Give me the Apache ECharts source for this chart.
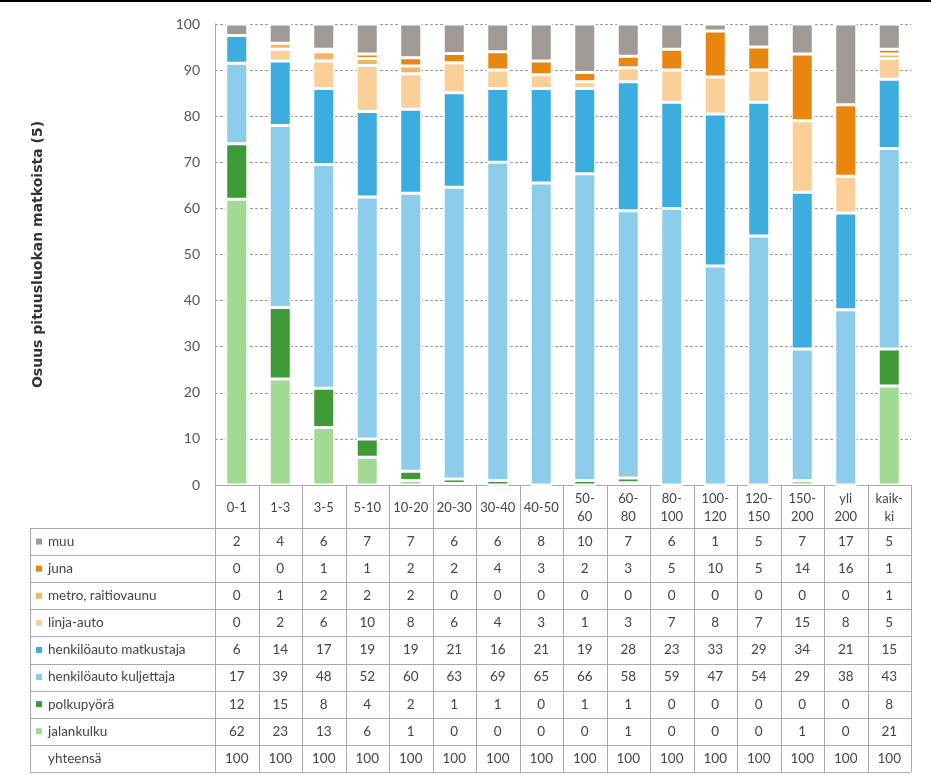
<!DOCTYPE html>
<html>
<head>
<meta charset="utf-8">
<script src="https://cdn.jsdelivr.net/npm/echarts@6/dist/echarts.min.js"></script>
<style>
html,body{margin:0;padding:0;background:#fff;}
#chart{width:931px;height:775px;}
</style>
</head>
<body>
<div id="chart"></div>
<script>
const categories = ['0-1','1-3','3-5','5-10','10-20','20-30','30-40','40-50','50-60','60-80','80-100','100-120','120-150','150-200','yli 200','kaikki'];
const headerLabels = ['0-1','1-3','3-5','5-10','10-20','20-30','30-40','40-50','50-\n60','60-\n80','80-\n100','100-\n120','120-\n150','150-\n200','yli\n200','kaik-\nki'];
const yTicks = [0,10,20,30,40,50,60,70,80,90,100];

// table values (rounded, as printed in the table)
const jalankulku   = [62,23,13,6,1,0,0,0,0,1,0,0,0,1,0,21];
const polkupyora   = [12,15,8,4,2,1,1,0,1,1,0,0,0,0,0,8];
const kuljettaja   = [17,39,48,52,60,63,69,65,66,58,59,47,54,29,38,43];
const matkustaja   = [6,14,17,19,19,21,16,21,19,28,23,33,29,34,21,15];
const linjaauto    = [0,2,6,10,8,6,4,3,1,3,7,8,7,15,8,5];
const metro        = [0,1,2,2,2,0,0,0,0,0,0,0,0,0,0,1];
const juna         = [0,0,1,1,2,2,4,3,2,3,5,10,5,14,16,1];
const muu          = [2,4,6,7,7,6,6,8,10,7,6,1,5,7,17,5];
const yhteensa     = [100,100,100,100,100,100,100,100,100,100,100,100,100,100,100,100];

// bar segment values (unrounded)
const barJalankulku = [62,23,12.5,6,1,0.3,0,0,0,0.5,0,0,0,1,0,21.5];
const barPolkupyora = [12,15.5,8.5,4,2,1,1,0,1,1,0,0,0,0,0,8];
const barKuljettaja = [17.5,39.5,48.5,52.5,60.3,63.3,69,65.5,66.5,58,60,47.5,54,28.5,38,43.5];
const barMatkustaja = [6,14,16.5,18.5,18.2,20.5,16,20.5,18.5,28,23,33,29,34,21,15];
const barLinjaauto  = [0,2.5,6,10,7.7,6.5,4,3,1.5,3,7,8,7,15.5,8,4.5];
const barMetro      = [0,1.3,2,1.5,1.7,0,0,0,0,0,0,0,0,0,0,1];
const barJuna       = [0,0,0.5,1,1.8,2,4,3,2,2.5,4.5,10,5,14.5,15.5,1];
const barMuu        = [2.5,4.2,5.5,6.5,7.3,6.4,6,8,10.5,7,5.5,1.5,5,6.5,17.5,5.5];

// stacking order bottom -> top
const seriesDefs = [
  {name:'jalankulku', data:barJalankulku, color:'#a2d993'},
  {name:'polkupyörä', data:barPolkupyora, color:'#3c9b36'},
  {name:'henkilöauto kuljettaja', data:barKuljettaja, color:'#8ccdec'},
  {name:'henkilöauto matkustaja', data:barMatkustaja, color:'#3badde'},
  {name:'linja-auto', data:barLinjaauto, color:'#fbcf98'},
  {name:'metro, raitiovaunu', data:barMetro, color:'#f6b464'},
  {name:'juna', data:barJuna, color:'#e8860f'},
  {name:'muu', data:barMuu, color:'#a09994'}
];
// table row order top -> bottom
const tableRows = [
  {name:'muu', data:muu, color:'#a09994'},
  {name:'juna', data:juna, color:'#e8860f'},
  {name:'metro, raitiovaunu', data:metro, color:'#f6b464'},
  {name:'linja-auto', data:linjaauto, color:'#fbcf98'},
  {name:'henkilöauto matkustaja', data:matkustaja, color:'#3badde'},
  {name:'henkilöauto kuljettaja', data:kuljettaja, color:'#8ccdec'},
  {name:'polkupyörä', data:polkupyora, color:'#3c9b36'},
  {name:'jalankulku', data:jalankulku, color:'#a2d993'},
  {name:'yhteensä', data:yhteensa, color:null}
];

const FONT = 'Lato';
const gridLeft = 215, gridRight = 20, gridTop = 24, gridBottom = 290;
const tableLeft = 30, tableRight = 911, headerTop = 485, bodyTop = 528, rowH = 27.1;
const lineColor = '#a9a9a9';
const textColor = '#444';

const chart = echarts.init(document.getElementById('chart'), null, {renderer:'canvas'});

const option = {
  animation:false,
  backgroundColor:'#fff',
  grid:{left:gridLeft, right:gridRight, top:gridTop, bottom:gridBottom},
  xAxis:{
    type:'category', data:categories,
    axisLine:{show:true, lineStyle:{color:lineColor, width:1}},
    axisTick:{show:false}, axisLabel:{show:false}
  },
  yAxis:{
    type:'value', min:0, max:100, interval:10,
    name:'Osuus pituusluokan matkoista (5)',
    nameLocation:'middle', nameRotate:90, nameGap:170,
    nameTextStyle:{fontFamily:'DejaVu Sans', fontSize:14, fontWeight:'bold', color:'#333'},
    axisLine:{show:true, lineStyle:{color:lineColor, width:1}},
    axisTick:{show:false},
    axisLabel:{fontFamily:FONT, fontSize:14, color:'#555', margin:15,
      formatter:function(v){return yTicks.indexOf(v)>=0 ? String(v) : '';}},
    splitLine:{show:true, lineStyle:{color:'#9a9a9a', width:1, type:[3,2]}}
  },
  series: seriesDefs.map(s=>({
    name:s.name, type:'bar', stack:'all', data:s.data, barWidth:22,
    itemStyle:{color:s.color, borderColor:'#fff', borderWidth:1.5}
  }))
};
chart.setOption(option);

// build table
const g = [];
g.push({type:'rect', shape:{x:0,y:0,width:931,height:2}, style:{fill:'#000'}, silent:true});
const colW = (tableRight - gridLeft) / categories.length;
const centers = categories.map((c,i)=>chart.convertToPixel({xAxisIndex:0}, c));
for (let i=0;i<=categories.length;i++){
  const x = Math.round(gridLeft + colW*i) + 0.5;
  g.push({type:'line', shape:{x1:x,y1:headerTop,x2:x,y2:bodyTop+rowH*tableRows.length}, style:{stroke:lineColor, lineWidth:1}, silent:true});
}
g.push({type:'line', shape:{x1:tableLeft+0.5,y1:bodyTop,x2:tableLeft+0.5,y2:bodyTop+rowH*tableRows.length}, style:{stroke:lineColor, lineWidth:1}, silent:true});
for (let r=0;r<=tableRows.length;r++){
  const y = Math.round(bodyTop + rowH*r) + 0.5;
  g.push({type:'line', shape:{x1:tableLeft,y1:y,x2:tableRight,y2:y}, style:{stroke:lineColor, lineWidth:1}, silent:true});
}
headerLabels.forEach((h,i)=>{
  g.push({type:'text', x:centers[i], y:(headerTop+bodyTop)/2+1, silent:true,
    style:{text:h, fontFamily:FONT, fontSize:13, fill:textColor, align:'center', verticalAlign:'middle', lineHeight:18}});
});
tableRows.forEach((row,r)=>{
  const cy = bodyTop + rowH*r + rowH/2;
  if (row.color){
    g.push({type:'rect', shape:{x:36,y:cy-3,width:6,height:6}, style:{fill:row.color}, silent:true});
  }
  g.push({type:'text', x:48, y:cy, silent:true,
    style:{text:row.name, fontFamily:FONT, fontSize:13.5, fill:textColor, align:'left', verticalAlign:'middle'}});
  row.data.forEach((v,i)=>{
    g.push({type:'text', x:centers[i], y:cy, silent:true,
      style:{text:String(v), fontFamily:FONT, fontSize:13.5, fill:textColor, align:'center', verticalAlign:'middle'}});
  });
});
chart.setOption({graphic:g});
</script>
</body>
</html>
